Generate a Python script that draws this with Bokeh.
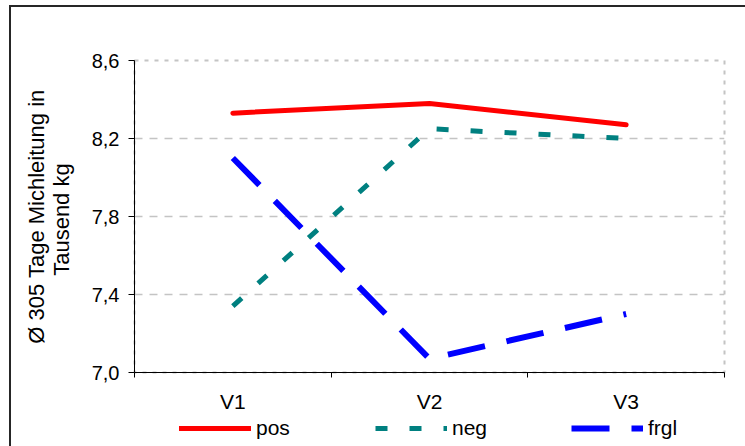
from bokeh.plotting import figure
from bokeh.layouts import column
from bokeh.models import (Range1d, FixedTicker, CustomJSTickFormatter, Legend, LegendItem)
from bokeh.embed import file_html
from bokeh.resources import INLINE

categories = ["V1", "V2", "V3"]
pos = [8.33, 8.38, 8.27]
neg = [7.34, 8.25, 8.20]
frgl = [8.10, 7.07, 7.30]
series_names = ["pos", "neg", "frgl"]
y_ticks = [7.0, 7.4, 7.8, 8.2, 8.6]
y_title = "Ø 305 Tage Michleitung in\nTausend  kg"

xs = [i + 1 for i in range(len(categories))]
bounds = [i + 0.5 for i in range(len(categories) + 1)]

FONT = "Liberation Sans"
styles_line = [dict(line_color="#FF0000", line_width=5, line_cap="round"),
               dict(line_color="#008080", line_width=5, line_dash="12 22"),
               dict(line_color="#0000FF", line_width=6, line_dash="38 22")]
series = [pos, neg, frgl]

p = figure(width=734, height=409,
           x_range=Range1d(0.5, len(categories) + 0.5),
           y_range=Range1d(y_ticks[0], y_ticks[-1]),
           output_backend="svg", toolbar_location=None,
           min_border_left=123, min_border_right=21,
           min_border_top=53, min_border_bottom=44,
           background_fill_color="white", border_fill_color="white")

p.outline_line_color = "#c4c4c4"
p.outline_line_width = 2
p.outline_line_dash = "4 6"

# x axis
p.xaxis.ticker = FixedTicker(ticks=xs, minor_ticks=bounds)
p.xaxis.major_label_overrides = {x: c for x, c in zip(xs, categories)}
p.xaxis.major_tick_out = 0
p.xaxis.major_tick_in = 0
p.xaxis.minor_tick_out = 5
p.xaxis.minor_tick_in = 0
p.xaxis.minor_tick_line_color = "black"
p.xaxis.axis_line_color = "black"
p.xaxis.major_label_text_font = FONT
p.xaxis.major_label_text_font_size = "21px"
p.xaxis.major_label_text_color = "black"
p.xaxis.major_label_standoff = 12
p.xgrid.visible = False

# y axis
p.yaxis.ticker = FixedTicker(ticks=y_ticks, minor_ticks=[])
p.yaxis.formatter = CustomJSTickFormatter(code="return tick.toFixed(1).replace('.', ',');")
p.yaxis.major_tick_out = 6
p.yaxis.major_tick_in = 0
p.yaxis.major_tick_line_color = "black"
p.yaxis.axis_line_color = "black"
p.yaxis.major_label_text_font = FONT
p.yaxis.major_label_text_font_size = "20px"
p.yaxis.major_label_text_color = "black"
p.yaxis.major_label_standoff = 9
p.yaxis.axis_label = y_title
p.yaxis.axis_label_text_font = FONT
p.yaxis.axis_label_text_font_size = "22px"
p.yaxis.axis_label_text_font_style = "normal"
p.yaxis.axis_label_text_line_height = 1.0
p.yaxis.axis_label_text_color = "black"
p.yaxis.axis_label_standoff = 15
p.ygrid.grid_line_color = "#c4c4c4"
p.ygrid.grid_line_dash = "8 7"
p.ygrid.grid_line_width = 1.3

for ys, st in zip(series, styles_line):
    p.line(xs, ys, **st)

# legend strip below the chart (its lines lie outside its own view)
pl = figure(width=734, height=30,
            x_range=Range1d(0.5, len(categories) + 0.5), y_range=Range1d(0, 1),
            output_backend="svg", toolbar_location=None,
            min_border_left=0, min_border_right=0, min_border_top=0, min_border_bottom=0,
            background_fill_color="white", border_fill_color="white")
pl.axis.visible = False
pl.grid.visible = False
pl.outline_line_color = None
items = []
for name, ys, st in zip(series_names, series, styles_line):
    r = pl.line(xs, ys, **st)
    items.append(LegendItem(label=name, renderers=[r]))

legend = Legend(items=items, orientation="horizontal", location=(45, 6),
                glyph_width=72, glyph_height=20, label_standoff=5,
                label_width=76, spacing=43, padding=0, margin=0,
                border_line_color=None, background_fill_alpha=0,
                label_text_font=FONT, label_text_font_size="21px",
                label_text_color="black")
pl.add_layout(legend, "center")

layout = column(p, pl, spacing=0,
                styles={"margin-left": "9px", "margin-top": "5px",
                        "border-left": "2px solid #262626",
                        "border-top": "2px solid #262626"})

open("out.html", "w").write(file_html(layout, INLINE))
